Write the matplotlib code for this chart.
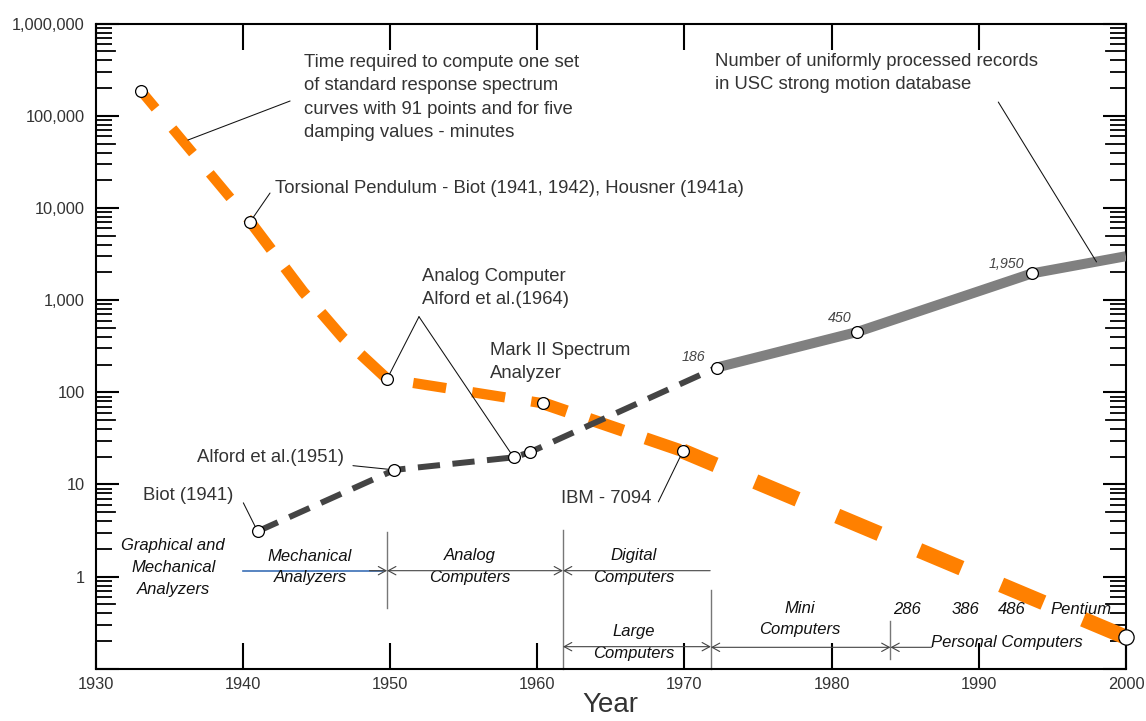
import matplotlib
matplotlib.use("Agg")
import matplotlib.pyplot as plt
from matplotlib.ticker import FixedLocator, FixedFormatter, NullFormatter

plt.rcParams['font.family'] = ['Liberation Sans', 'DejaVu Sans']
plt.rcParams['lines.scale_dashes'] = False

# ---- data -------------------------------------------------------------
# time to compute one set of response spectrum curves (minutes)
spectrum_years = [1933.1, 1940.5, 1949.8, 1960.4, 1969.9, 2000.0]
spectrum_minutes = [185000, 7100, 140, 76, 23, 0.22]
# course of the curve between the torsional pendulum and the 1950 analog point
bend_years = [1944.1, 1946.8]
bend_minutes = [1230, 390]

# number of records processed in early studies
early_years = [1941.0, 1950.3, 1958.4, 1959.5, 1972.2]
early_records = [3.1, 14.4, 19.7, 22.4, 186]

# USC strong motion database
usc_years = [1972.2, 1981.7, 1993.6, 2000.0]
usc_records = [186, 450, 1950, 3000]
usc_labels = ['186', '450', '1,950']

x_ticks = [1930, 1940, 1950, 1960, 1970, 1980, 1990, 2000]
y_ticks = [0.1, 1, 10, 100, 1000, 10000, 100000, 1000000]
y_tick_labels = ['', '1', '10', '100', '1,000', '10,000', '100,000', '1,000,000']

# ---- figure -----------------------------------------------------------
ORANGE = '#ff8000'
DARK = '#444444'
GREY = '#808080'
TXT = '#333333'

fig = plt.figure(figsize=(11.46, 7.21), dpi=100)
ax = fig.add_axes([0.0835, 0.0724, 0.8990, 0.8947])
ax.set_yscale('log')
ax.set_xlim(1930, 2000)
ax.set_ylim(0.1, 1e6)

# orange curve, drawn piece by piece between the marked points
path_years = spectrum_years[:2] + bend_years + spectrum_years[2:]
path_minutes = spectrum_minutes[:2] + bend_minutes + spectrum_minutes[2:]
breaks = [0, 1, 4, 5, 6, 7]
piece_widths = [7.2, 7.9, 7.4, 8.8, 11.0]
piece_dashes = [(7, (23, 19)), (0, (25, 16.5)), (24, (24, 19)),
                (8, (26, 17)), (7.5, (33, 31))]
for i in range(len(breaks) - 1):
    a, b = breaks[i], breaks[i + 1] + 1
    ax.plot(path_years[a:b], path_minutes[a:b], color=ORANGE,
            lw=piece_widths[i], linestyle=piece_dashes[i],
            dash_capstyle='butt', solid_joinstyle='round', zorder=2)

# record counts
ax.plot(usc_years, usc_records, color=GREY, lw=7.2,
        solid_capstyle='butt', zorder=3)
ax.plot(early_years, early_records, color=DARK, lw=4.3,
        linestyle=(0, (16, 9)), dash_capstyle='butt', zorder=4)

marker_kw = dict(linestyle='none', marker='o', mfc='white', mec='black',
                 mew=0.9, zorder=6, clip_on=False)
ax.plot(spectrum_years[:-1], spectrum_minutes[:-1], ms=8.5, **marker_kw)
ax.plot(spectrum_years[-1:], spectrum_minutes[-1:], ms=11, **marker_kw)
ax.plot(early_years[:-1], early_records[:-1], ms=8.5, **marker_kw)
ax.plot(usc_years[:-1], usc_records[:-1], ms=8.5, **marker_kw)

# ---- axes styling -----------------------------------------------------
for s in ax.spines.values():
    s.set_linewidth(1.5)
ax.xaxis.set_major_locator(FixedLocator(x_ticks))
ax.xaxis.set_major_formatter(FixedFormatter([str(x) for x in x_ticks]))
ax.xaxis.set_minor_locator(FixedLocator([]))
ax.yaxis.set_major_locator(FixedLocator(y_ticks))
ax.yaxis.set_major_formatter(FixedFormatter(y_tick_labels))
minor = [k * 10.0 ** n for n in range(-1, 6) for k in (2, 3, 4, 6, 7, 8, 9)]
ax.yaxis.set_minor_locator(FixedLocator(minor))
ax.yaxis.set_minor_formatter(NullFormatter())
ax.tick_params(which='both', direction='in', top=True, right=True,
               labeltop=False, labelright=False, colors='black')
ax.tick_params(axis='x', which='major', length=18.7, width=1.5, pad=6,
               labelsize=11.8, labelcolor=TXT)
ax.tick_params(axis='y', which='major', length=16.8, width=1.5, pad=8,
               labelsize=11.8, labelcolor=TXT)
ax.tick_params(axis='y', which='minor', length=11.5, width=1.3)
# slightly longer ticks at the half decade
ytr = ax.get_yaxis_transform()
for n in range(-1, 6):
    v = 5 * 10.0 ** n
    ax.plot([0, 0.0189], [v, v], color='black', lw=1.3, transform=ytr,
            clip_on=False, zorder=1)
    ax.plot([1 - 0.0189, 1], [v, v], color='black', lw=1.3, transform=ytr,
            clip_on=False, zorder=1)

ax.set_xlabel('Year', fontsize=20, color=TXT, labelpad=0)

# ---- annotations ------------------------------------------------------
T = ax.transAxes
note = dict(fontsize=13.3, color=TXT, transform=T, va='center', ha='left',
            linespacing=1.47)
ax.text(0.2022, 0.8856, 'Time required to compute one set\n'
        'of standard response spectrum\n'
        'curves with 91 points and for five\n'
        'damping values - minutes', **note)
ax.text(0.1740, 0.7453,
        'Torsional Pendulum - Biot (1941, 1942), Housner (1941a)', **note)
ax.text(0.6010, 0.9236, 'Number of uniformly processed records\n'
        'in USC strong motion database', **note)
ax.text(0.3167, 0.5903, 'Analog Computer\nAlford et al.(1964)', **note)
ax.text(0.3827, 0.4759, 'Mark II Spectrum\nAnalyzer', **note)
ax.text(0.0980, 0.3277, 'Alford et al.(1951)', **note)
ax.text(0.0456, 0.2683, 'Biot (1941)', **note)
ax.text(0.4516, 0.2643, 'IBM - 7094', **note)

# values on the USC record curve
val_pos = [(0.5914, 0.4833, 'right'), (0.7224, 0.5433, 'center'),
           (0.8842, 0.6274, 'center')]
for (fx, fy, ha), lab in zip(val_pos, usc_labels):
    ax.text(fx, fy, lab, fontsize=10.3, style='italic', color=DARK,
            ha=ha, va='center', transform=T)

# leader lines
lead = dict(arrowstyle='-', color='#111111', lw=0.75, shrinkA=0)
ax.annotate('', xy=(1936.27, 54700), xytext=(0.1887, 0.8802),
            textcoords='axes fraction', arrowprops=dict(shrinkB=0, **lead))
ax.annotate('', xy=(spectrum_years[1], spectrum_minutes[1]),
            xytext=(0.1692, 0.7375), textcoords='axes fraction',
            arrowprops=dict(shrinkB=4, **lead))
ax.annotate('', xy=(spectrum_years[2], spectrum_minutes[2]),
            xytext=(0.3138, 0.5458), textcoords='axes fraction',
            arrowprops=dict(shrinkB=4, **lead))
ax.annotate('', xy=(early_years[2], early_records[2]),
            xytext=(0.3138, 0.5458), textcoords='axes fraction',
            arrowprops=dict(shrinkB=4, **lead))
ax.annotate('', xy=(early_years[1], early_records[1]),
            xytext=(0.2497, 0.3149), textcoords='axes fraction',
            arrowprops=dict(shrinkB=4, **lead))
ax.annotate('', xy=(early_years[0], early_records[0]),
            xytext=(0.1433, 0.2573), textcoords='axes fraction',
            arrowprops=dict(shrinkB=4, **lead))
ax.annotate('', xy=(spectrum_years[4], spectrum_minutes[4]),
            xytext=(0.5461, 0.2588), textcoords='axes fraction',
            arrowprops=dict(shrinkB=4, **lead))
ax.annotate('', xy=(1998.0, 2600), xytext=(0.8761, 0.8786),
            textcoords='axes fraction', arrowprops=dict(shrinkB=0, **lead))

# ---- eras of computing hardware ---------------------------------------
XT = ax.get_xaxis_transform()
era = dict(fontsize=12, style='italic', color='#111111', ha='center',
           va='center', transform=T, linespacing=1.55)
ax.text(0.0753, 0.1570, 'Graphical and\nMechanical\nAnalyzers', **era)
ax.text(0.2080, 0.1575, 'Mechanical\nAnalyzers', **era)
ax.text(0.3633, 0.1583, 'Analog\nComputers', **era)
ax.text(0.5218, 0.1586, 'Digital\nComputers', **era)
ax.text(0.5218, 0.0408, 'Large\nComputers', **era)
ax.text(0.6836, 0.0769, 'Mini\nComputers', **era)
for fx, lab in [(0.7872, '286'), (0.8444, '386'), (0.8896, '486'),
                (0.9563, 'Pentium')]:
    ax.text(fx, 0.0922, lab, **era)
ax.text(0.8842, 0.0405, 'Personal Computers', **era)

bound = dict(color='#777777', lw=1.0, transform=XT, clip_on=False, zorder=1)
ax.plot([1949.8, 1949.8], [0.0938, 0.2125], **bound)
ax.plot([1961.75, 1961.75], [0.0, 0.2152], **bound)
ax.plot([1971.8, 1971.8], [0.0, 0.1222], **bound)
ax.plot([1984.0, 1984.0], [0.0147, 0.0741], **bound)

ax.plot([1940.0, 1949.5], [0.1521, 0.1521], color='#3b6fb6', lw=1.2,
         transform=XT, zorder=1)


def span(x0, x1, y, style):
    ax.annotate('', xy=(x1, y), xytext=(x0, y), xycoords=XT, textcoords=XT,
                arrowprops=dict(arrowstyle=style + ',head_length=0.55,head_width=0.3',
                                color='#444444', lw=0.8, shrinkA=0, shrinkB=0))


span(1948.6, 1949.8, 0.1521, '->')
span(1949.8, 1961.75, 0.1521, '<->')
span(1961.75, 1971.75, 0.1521, '<-')
span(1961.75, 1971.8, 0.0343, '<->')
span(1971.8, 1984.0, 0.0333, '<->')
span(1984.0, 1986.8, 0.0333, '<-')

fig.savefig('out.png', dpi=100)
